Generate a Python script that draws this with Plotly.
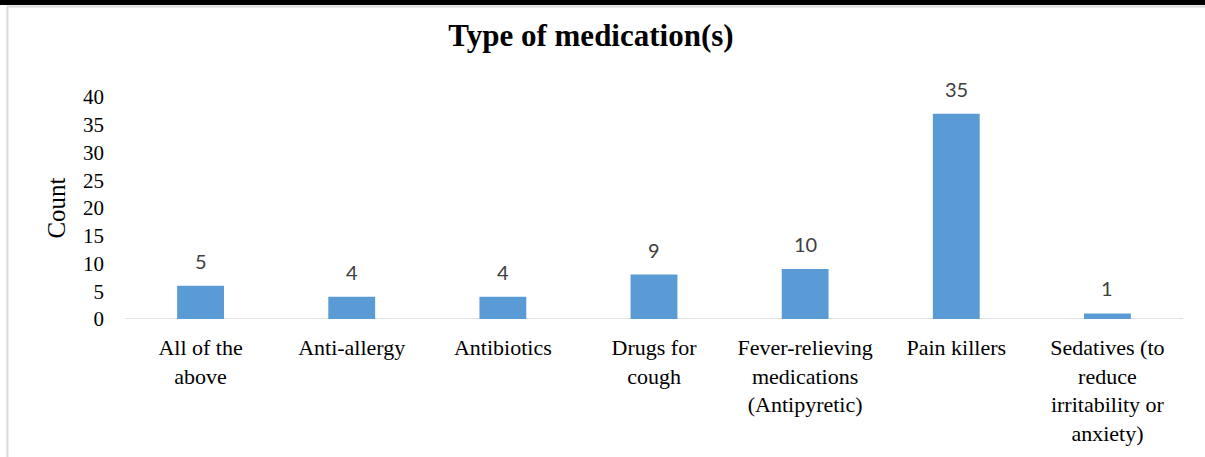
import plotly.graph_objects as go

categories = [
    "All of the<br>above",
    "Anti-allergy",
    "Antibiotics",
    "Drugs for<br>cough",
    "Fever-relieving<br>medications<br>(Antipyretic)",
    "Pain killers",
    "Sedatives (to<br>reduce<br>irritability or<br>anxiety)",
]
bar_values = [6, 4, 4, 8, 9, 37, 1]
data_labels = ["5", "4", "4", "9", "10", "35", "1"]
y_ticks = [0, 5, 10, 15, 20, 25, 30, 35, 40]

W, H = 1205, 457
ML, MR, MT, MB = 125, 22, 97, 138
PW, PH = W - ML - MR, H - MT - MB


def px_x(px):
    return (px - ML) / PW


def px_y(py):
    return (H - MB - py) / PH


SERIF = "Liberation Serif, Times New Roman, serif"

fig = go.Figure()
fig.add_trace(go.Bar(
    x=categories,
    y=bar_values,
    marker=dict(color="#5B9BD5", line=dict(width=0)),
    width=0.31,
    hoverinfo="skip",
))

for c, v, t in zip(categories, bar_values, data_labels):
    fig.add_annotation(
        x=c, y=v, text=t, showarrow=False, yanchor="middle", yshift=25,
        font=dict(family="Lato, Carlito, sans-serif", size=20, color="#404040"),
    )

shapes = [
    # black band at top
    dict(type="rect", xref="paper", yref="paper",
         x0=px_x(-2), x1=px_x(W + 2), y0=px_y(5), y1=px_y(-2),
         fillcolor="black", line=dict(width=0), layer="above"),
    # light gray frame: top and left
    dict(type="line", xref="paper", yref="paper",
         x0=px_x(7), x1=px_x(W), y0=px_y(6.5), y1=px_y(6.5),
         line=dict(color="#d9d9d9", width=2)),
    dict(type="line", xref="paper", yref="paper",
         x0=px_x(7.5), x1=px_x(7.5), y0=px_y(6), y1=px_y(H),
         line=dict(color="#d9d9d9", width=2)),
    # category axis baseline
    dict(type="line", xref="paper", yref="y",
         x0=0, x1=1, y0=0, y1=0,
         line=dict(color="#d9d9d9", width=1.5), layer="below"),
]

fig.update_layout(
    width=W, height=H,
    margin=dict(l=ML, r=MR, t=MT, b=MB, pad=0),
    paper_bgcolor="white", plot_bgcolor="white",
    showlegend=False,
    bargap=0.69,
    title=dict(text="<b>Type of medication(s)</b>", x=px_x(591), xref="paper",
               y=1 - 35 / H, yref="container", yanchor="middle", xanchor="center",
               font=dict(family=SERIF, size=31, color="black")),
    xaxis=dict(
        showgrid=False, showline=False, zeroline=False, ticks="",
        tickfont=dict(family=SERIF, size=22, color="black"),
        ticklabelstandoff=13,
        fixedrange=True,
    ),
    yaxis=dict(
        range=[0, 40], tickvals=y_ticks, showgrid=False, showline=False,
        zeroline=False, ticks="",
        tickfont=dict(family=SERIF, size=21, color="black"),
        ticklabelstandoff=20,
        title=dict(text="Count", font=dict(family=SERIF, size=25, color="black"),
                   standoff=10),
        fixedrange=True,
    ),
    shapes=shapes,
)

fig.write_html(
    "out.html",
    config={"displayModeBar": False},
    post_script="document.body.style.margin='0';document.body.style.overflow='hidden';",
)
